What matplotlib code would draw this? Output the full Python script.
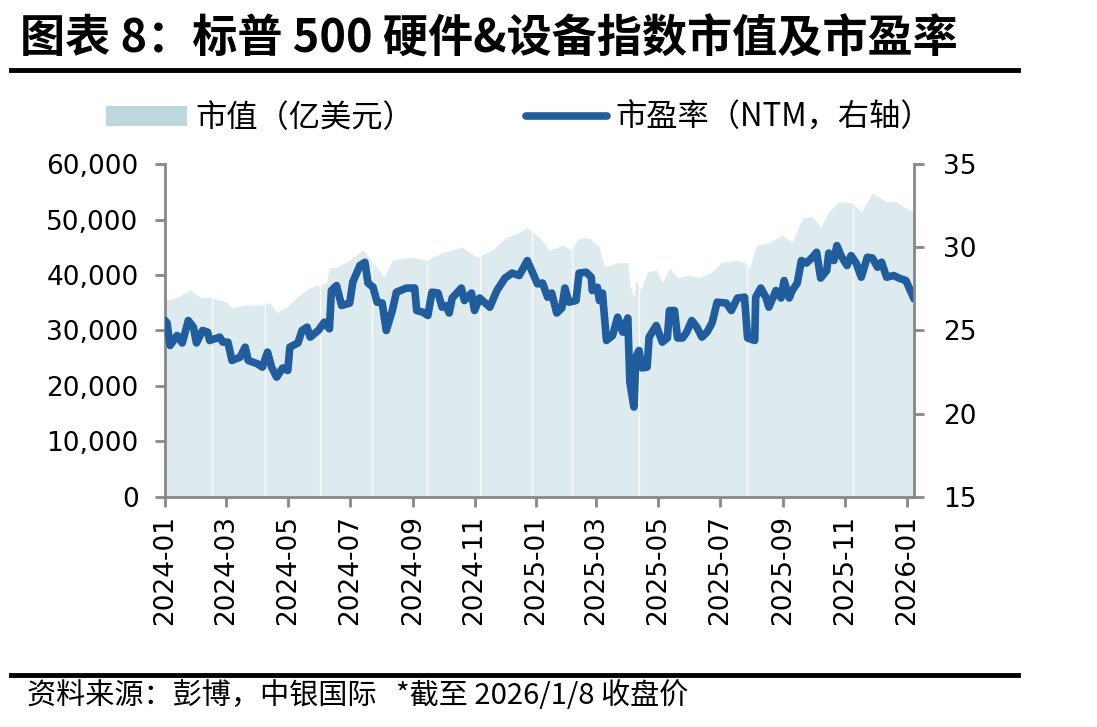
import numpy as np
import pandas as pd
import matplotlib
matplotlib.use("Agg")
import matplotlib.pyplot as plt
import matplotlib.dates as mdates
from matplotlib.patches import Patch
from matplotlib.lines import Line2D

plt.rcParams['font.family'] = ['DejaVu Sans', 'Noto Sans CJK SC']
CJK = ['Noto Sans CJK SC', 'DejaVu Sans']

# market cap (100m USD)
mc_dates = ['2024-01-01', '2024-01-03', '2024-01-13', '2024-01-26', '2024-02-04', '2024-02-14',
            '2024-03-02', '2024-03-07', '2024-03-18', '2024-04-03', '2024-04-13', '2024-04-20',
            '2024-04-30', '2024-05-10', '2024-05-23', '2024-06-08', '2024-06-11', '2024-06-18',
            '2024-07-01', '2024-07-14', '2024-07-24', '2024-08-04', '2024-08-12', '2024-09-01',
            '2024-09-15', '2024-10-01', '2024-10-20', '2024-11-03', '2024-11-19', '2024-12-02',
            '2024-12-15', '2024-12-23', '2025-01-04', '2025-01-14', '2025-01-27', '2025-02-04',
            '2025-02-12', '2025-02-22', '2025-03-04', '2025-03-09', '2025-03-21', '2025-04-01',
            '2025-04-03', '2025-04-07', '2025-04-09', '2025-04-14', '2025-04-20', '2025-04-29',
            '2025-05-05', '2025-05-12', '2025-05-20', '2025-06-01', '2025-06-10', '2025-06-22',
            '2025-07-02', '2025-07-17', '2025-07-25', '2025-07-30', '2025-08-06', '2025-08-18',
            '2025-08-31', '2025-09-10', '2025-09-20', '2025-09-30', '2025-10-08', '2025-10-16',
            '2025-10-26', '2025-11-08', '2025-11-17', '2025-11-28', '2025-12-11', '2025-12-21',
            '2026-01-03', '2026-01-08']
mc_vals = [35300, 35500, 36000, 37300, 36000, 36000,
           35100, 34000, 34600, 34600, 35000, 33300,
           34200, 36000, 37700, 38600, 41300, 41400,
           42700, 44500, 42200, 39600, 42700, 43200,
           42700, 44100, 45000, 43200, 44500, 46800,
           47700, 48600, 46700, 44500, 45400, 44500,
           46700, 46700, 45000, 41400, 42200, 42200,
           38000, 36000, 39000, 37300, 40500, 40900,
           38600, 41300, 39500, 40000, 39500, 40400,
           42300, 42700, 42300, 41300, 45400, 45800,
           47200, 45900, 50300, 50500, 48600, 51400,
           53200, 53000, 51400, 54800, 53200, 53200,
           51700, 51500]

# forward P/E (NTM), right axis
pe_dates = ['2024-01-01', '2024-01-03', '2024-01-06', '2024-01-13', '2024-01-18', '2024-01-24',
            '2024-01-29', '2024-02-01', '2024-02-07', '2024-02-12', '2024-02-14', '2024-02-24',
            '2024-02-27', '2024-03-03', '2024-03-07', '2024-03-15', '2024-03-20', '2024-03-23',
            '2024-04-01', '2024-04-06', '2024-04-11', '2024-04-15', '2024-04-20', '2024-04-26',
            '2024-05-01', '2024-05-03', '2024-05-11', '2024-05-15', '2024-05-20', '2024-05-23',
            '2024-05-31', '2024-06-06', '2024-06-11', '2024-06-13', '2024-06-18', '2024-06-23',
            '2024-07-01', '2024-07-04', '2024-07-11', '2024-07-16', '2024-07-19', '2024-07-24',
            '2024-07-28', '2024-08-02', '2024-08-06', '2024-08-12', '2024-08-16', '2024-08-26',
            '2024-09-03', '2024-09-05', '2024-09-11', '2024-09-16', '2024-09-20', '2024-09-26',
            '2024-09-30', '2024-10-04', '2024-10-07', '2024-10-10', '2024-10-19', '2024-10-22',
            '2024-10-29', '2024-11-01', '2024-11-06', '2024-11-16', '2024-11-23', '2024-12-01',
            '2024-12-08', '2024-12-15', '2024-12-23', '2024-12-28', '2025-01-02', '2025-01-07',
            '2025-01-12', '2025-01-16', '2025-01-21', '2025-01-26', '2025-01-29', '2025-02-02',
            '2025-02-09', '2025-02-12', '2025-02-19', '2025-02-24', '2025-02-25', '2025-03-02',
            '2025-03-04', '2025-03-07', '2025-03-11', '2025-03-17', '2025-03-22', '2025-03-27',
            '2025-04-01', '2025-04-03', '2025-04-07', '2025-04-09', '2025-04-12', '2025-04-15',
            '2025-04-20', '2025-04-22', '2025-04-29', '2025-05-05', '2025-05-10', '2025-05-12',
            '2025-05-17', '2025-05-20', '2025-05-25', '2025-05-29', '2025-06-03', '2025-06-08',
            '2025-06-13', '2025-06-18', '2025-06-23', '2025-06-28', '2025-07-07', '2025-07-12',
            '2025-07-18', '2025-07-25', '2025-07-28', '2025-08-04', '2025-08-05', '2025-08-10',
            '2025-08-15', '2025-08-18', '2025-08-25', '2025-08-30', '2025-09-02', '2025-09-07',
            '2025-09-10', '2025-09-15', '2025-09-19', '2025-09-24', '2025-09-30', '2025-10-04',
            '2025-10-08', '2025-10-14', '2025-10-16', '2025-10-21', '2025-10-24', '2025-10-28',
            '2025-11-03', '2025-11-07', '2025-11-12', '2025-11-17', '2025-11-23', '2025-11-28',
            '2025-12-03', '2025-12-07', '2025-12-12', '2025-12-19', '2025-12-24', '2025-12-31',
            '2026-01-08']
pe_vals = [25.6, 25.45, 24.1, 24.7, 24.25, 25.6,
           25.2, 24.25, 25.0, 24.9, 24.4, 24.6,
           24.3, 24.3, 23.2, 23.4, 24.0, 23.2,
           23.0, 22.8, 23.7, 22.8, 22.2, 22.75,
           22.6, 24.0, 24.25, 25.0, 25.2, 24.6,
           25.0, 25.5, 25.1, 27.4, 27.7, 26.5,
           26.65, 27.9, 28.9, 29.1, 27.85, 27.6,
           26.7, 26.65, 25.0, 26.2, 27.3, 27.55,
           27.55, 26.2, 26.1, 25.9, 27.3, 27.25,
           26.4, 26.5, 26.05, 26.95, 27.55, 26.8,
           27.25, 26.2, 26.95, 26.4, 27.4, 28.15,
           28.45, 28.3, 29.2, 28.5, 27.8, 27.85,
           27.0, 27.25, 26.05, 26.35, 27.55, 26.7,
           26.8, 28.45, 28.5, 28.2, 27.4, 27.6,
           26.8, 27.25, 24.4, 24.7, 25.8, 24.9,
           25.75, 21.9, 20.4, 23.4, 23.8, 22.75,
           22.8, 24.6, 25.3, 24.3, 24.55, 26.2,
           26.2, 24.55, 24.55, 24.9, 25.6, 25.2,
           24.6, 24.9, 25.45, 26.7, 26.65, 26.2,
           26.95, 27.0, 24.55, 24.4, 27.0, 27.55,
           27.0, 26.4, 27.4, 26.95, 28.0, 26.95,
           27.4, 27.85, 29.2, 29.05, 29.4, 29.7,
           28.15, 28.6, 29.65, 29.2, 30.1, 29.5,
           28.9, 29.5, 29.05, 28.2, 29.4, 29.35,
           28.8, 29.1, 28.2, 28.3, 28.15, 28.0,
           26.9]

# thin white breaks in the shaded area
gap_dates = ['2024-02-16', '2024-04-09', '2024-06-02', '2024-07-23', '2024-09-15', '2024-11-06',
             '2024-12-28', '2025-02-05', '2025-04-12', '2025-07-27', '2025-11-09']

tick_dates = pd.date_range('2024-01-01', '2026-01-01', freq='2MS')

mc_x = pd.to_datetime(mc_dates)
pe_x = pd.to_datetime(pe_dates)

fig = plt.figure(figsize=(10.97, 7.27), dpi=100)
ax1 = fig.add_axes([0.1504, 0.3164, 0.6828, 0.458])
ax2 = ax1.twinx()

area_col = '#DDEBEF'
line_col = '#1F5D9F'
spine_col = '#888888'

ax1.fill_between(mc_x, 0, mc_vals, color=area_col, lw=0, zorder=1)
for g in gap_dates:
    ax1.axvline(pd.Timestamp(g), color='white', lw=1, zorder=2)
ax2.plot(pe_x, pe_vals, color=line_col, lw=5.5, solid_capstyle='round', solid_joinstyle='round')

ax1.set_xlim(pd.Timestamp('2024-01-01'), pd.Timestamp('2026-01-08'))
ax1.set_ylim(0, 60000)
ax2.set_ylim(15, 35)
ax1.set_yticks(np.arange(0, 60001, 10000))
ax1.yaxis.set_major_formatter(matplotlib.ticker.FuncFormatter(lambda v, p: f'{int(v):,}'))
ax2.set_yticks(np.arange(15, 36, 5))
ax1.set_xticks(tick_dates)
ax1.xaxis.set_major_formatter(mdates.DateFormatter('%Y-%m'))

for ax in (ax1, ax2):
    for s in ax.spines.values():
        s.set_color(spine_col)
        s.set_linewidth(2)
    ax.spines['top'].set_visible(False)
    ax.tick_params(colors=spine_col, width=2, length=7, labelcolor='black', labelsize=19)
ax1.spines['right'].set_visible(False)
ax2.spines['left'].set_visible(False)
ax2.spines['bottom'].set_visible(False)
ax1.tick_params(axis='y', pad=12)
ax2.tick_params(axis='y', pad=14)
ax1.tick_params(axis='x', pad=6)
plt.setp(ax1.get_xticklabels(), rotation=90)

# legend
handles = [Patch(facecolor='#BDD9DE', edgecolor='none'),
           Line2D([], [], color=line_col, lw=5.5, solid_capstyle='round')]
leg = fig.legend(handles, ['市值（亿美元）', '市盈率（NTM，右轴）'], loc='center',
                 bbox_to_anchor=(0.473, 0.838), ncol=2, frameon=False,
                 handlelength=2.6, handleheight=0.6, columnspacing=3.6, handletextpad=0.25,
                 prop={'family': CJK, 'size': 22.5})

# title, rules and source
fig.text(0.018, 0.945, '图表 8：标普 500 硬件&设备指数市值及市盈率', family=CJK,
         fontsize=32.5, fontweight='bold', va='center', ha='left')
fig.add_artist(Line2D([0.01, 0.928], [0.904, 0.904], color='black', lw=3.5))
fig.add_artist(Line2D([0.01, 0.928], [0.072, 0.072], color='black', lw=3.5))
fig.text(0.025, 0.043, '资料来源：彭博，中银国际   *截至 2026/1/8 收盘价', family=CJK,
         fontsize=21, style='italic', va='center', ha='left')

fig.savefig('out.png', dpi=100)
